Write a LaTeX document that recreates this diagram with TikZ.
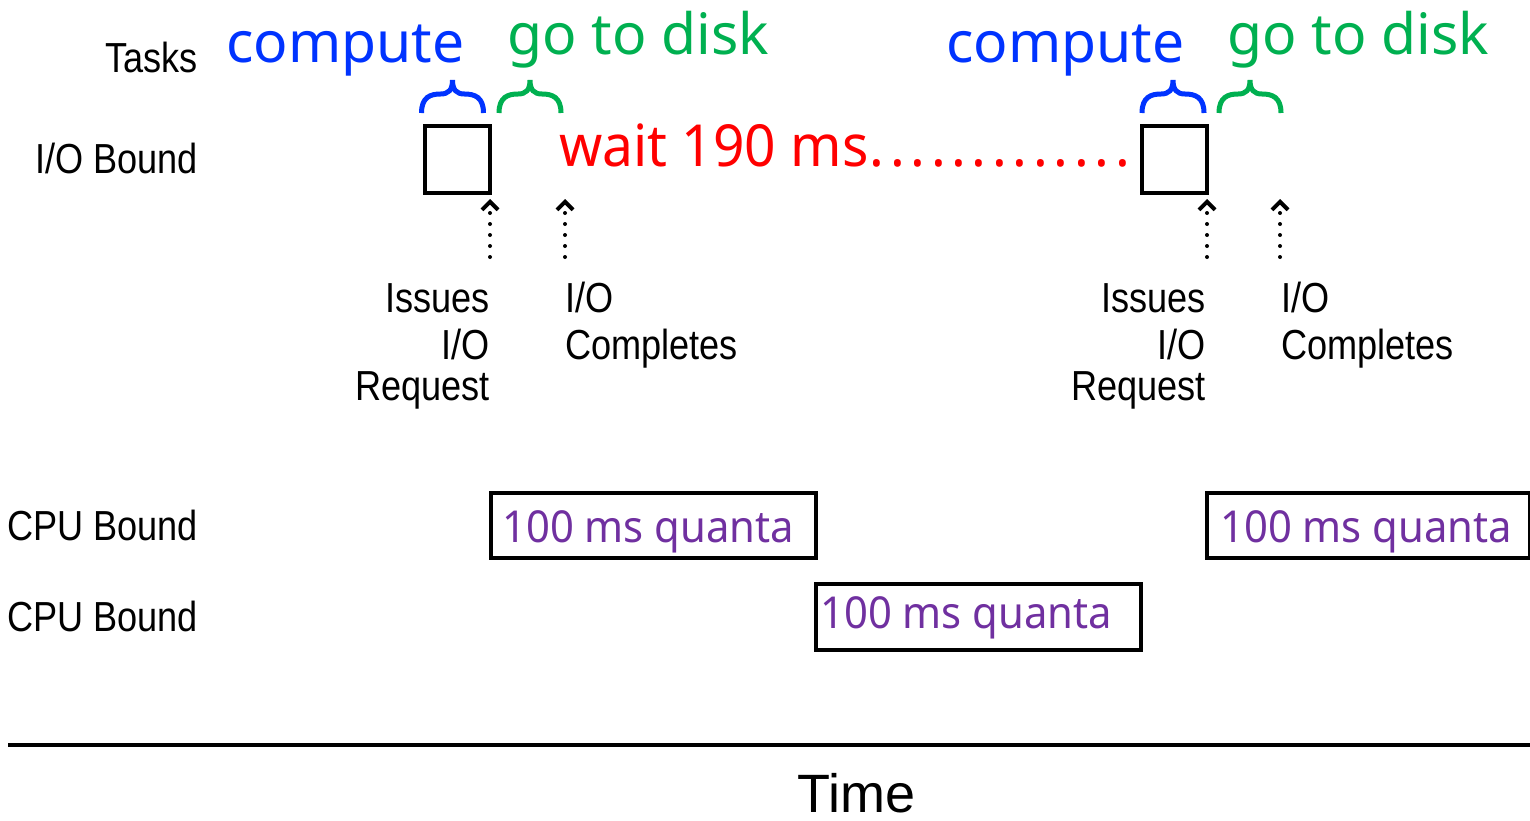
\documentclass[tikz,border=0pt]{standalone}
\usepackage{fontspec}
\setmainfont{Liberation Sans}
\newfontfamily\narf[FakeStretch=0.86]{Liberation Sans}
\newfontfamily\noto{Noto Sans}
\newfontfamily\notored[FakeStretch=0.95]{Noto Sans}
\newfontfamily\notoq[FakeStretch=0.95]{Noto Sans}
\usetikzlibrary{arrows.meta}
\definecolor{cblue}{RGB}{0,51,255}
\definecolor{cgreen}{RGB}{0,176,80}
\definecolor{cred}{RGB}{255,0,0}
\definecolor{cpurple}{RGB}{112,48,160}
\newcommand{\rdots}{\kern1pt.\kern5.7pt.\kern5.7pt.\kern5.7pt.\kern5.7pt.\kern5.7pt.\kern5.7pt.\kern5.7pt.\kern5.7pt.\kern5.7pt.\kern5.7pt.\kern5.7pt.\kern5.7pt.}
\begin{document}
\begin{tikzpicture}[x=1pt,y=-1pt,
  lbl/.style={font=\narf\fontsize{42}{47}\selectfont, inner sep=0pt},
  bigword/.style={font=\noto\fontsize{57}{62}\selectfont, inner sep=0pt, anchor=base west},
  quanta/.style={font=\notoq\fontsize{44}{50}\selectfont, text=cpurple, inner sep=0pt, anchor=base west},
  iobox/.style={draw, line width=4pt, minimum width=65pt, minimum height=67pt, inner sep=0pt},
  cpubox/.style={draw, line width=4pt, minimum height=65pt, inner sep=0pt},
  evarrow/.style={line width=4pt, line cap=round, dash pattern=on 0pt off 11pt,
    -{Straight Barb[length=8pt,width=16pt,line width=4pt]}},
  upbrace/.pic={\draw[line width=5pt]
     (-31,0) .. controls (-31,-16) and (-22,-19) .. (-12,-19)
     .. controls (-4,-19) and (0,-23) .. (0,-33)
     .. controls (0,-23) and (4,-19) .. (12,-19)
     .. controls (22,-19) and (31,-16) .. (31,0);}
]
\useasboundingbox (0,0) rectangle (1530,820);

% row labels
\node[lbl, anchor=base east] (tasks) at (198,72) {Tasks};
\node[lbl, anchor=base east] (iob) at (198,173) {I/O Bound};
\node[lbl, anchor=base east] (cpu1) at (198,540) {CPU Bound};
\node[lbl, anchor=base east] (cpu2) at (198,631) {CPU Bound};

% task words
\node[bigword, text=cblue] (comp1) at (226,62) {compute};
\node[bigword, text=cgreen] (disk1) at (507,54) {go to disk};
\node[bigword, text=cblue] (comp2) at (946,62) {compute};
\node[bigword, text=cgreen] (disk2) at (1227,54) {go to disk};

% braces
\pic[color=cblue] (br1) at (452.5,113) {upbrace};
\pic[color=cgreen] (br2) at (530,113) {upbrace};
\pic[color=cblue] (br3) at (1173,113) {upbrace};
\pic[color=cgreen] (br4) at (1250,113) {upbrace};

% I/O boxes
\node[iobox] (io1) at (457.5,159.5) {};
\node[iobox] (io2) at (1174,159.5) {};

% wait text
\node[font=\notored\fontsize{58}{64}\selectfont, text=cred, inner sep=0pt, anchor=base west]
  (wait) at (559,166) {wait 190 ms\rdots};

% event arrows
\coordinate (a1s) at (490,257); \coordinate (a1e) at (490,199);
\coordinate (a2s) at (565,257); \coordinate (a2e) at (565,199);
\coordinate (a3s) at (1207,257); \coordinate (a3e) at (1207,199);
\coordinate (a4s) at (1280,257); \coordinate (a4e) at (1280,199);
\draw[evarrow] (a1s) -- (a1e);
\draw[evarrow] (a2s) -- (a2e);
\draw[evarrow] (a3s) -- (a3e);
\draw[evarrow] (a4s) -- (a4e);

% event labels
\node[lbl, align=right, anchor=base east] (iss1) at (490,400) {Issues\\I/O\\[-6pt]Request};
\node[lbl, align=left, anchor=base west] (cmp1) at (565,359) {I/O\\Completes};
\node[lbl, align=right, anchor=base east] (iss2) at (1206,400) {Issues\\I/O\\[-6pt]Request};
\node[lbl, align=left, anchor=base west] (cmp2) at (1281,359) {I/O\\Completes};

% CPU quanta
\node[cpubox, minimum width=325pt] (q1) at (653.5,525.5) {};
\node[quanta] (q1t) at (502,542) {100 ms quanta};
\node[cpubox, minimum width=323pt] (q2) at (1368.5,525.5) {};
\node[quanta] (q2t) at (1220,542) {100 ms quanta};
\node[cpubox, minimum width=325.5pt, minimum height=66pt] (q3) at (978.25,617) {};
\node[quanta] (q3t) at (820,628) {100 ms quanta};

% time axis
\coordinate (tl) at (8,745);
\coordinate (tr) at (1530,745);
\draw[line width=4pt] (tl) -- (tr);
\node[font=\fontsize{54}{60}\selectfont, inner sep=0pt, anchor=base west] (time) at (797,812) {Time};
\end{tikzpicture}
\end{document}
